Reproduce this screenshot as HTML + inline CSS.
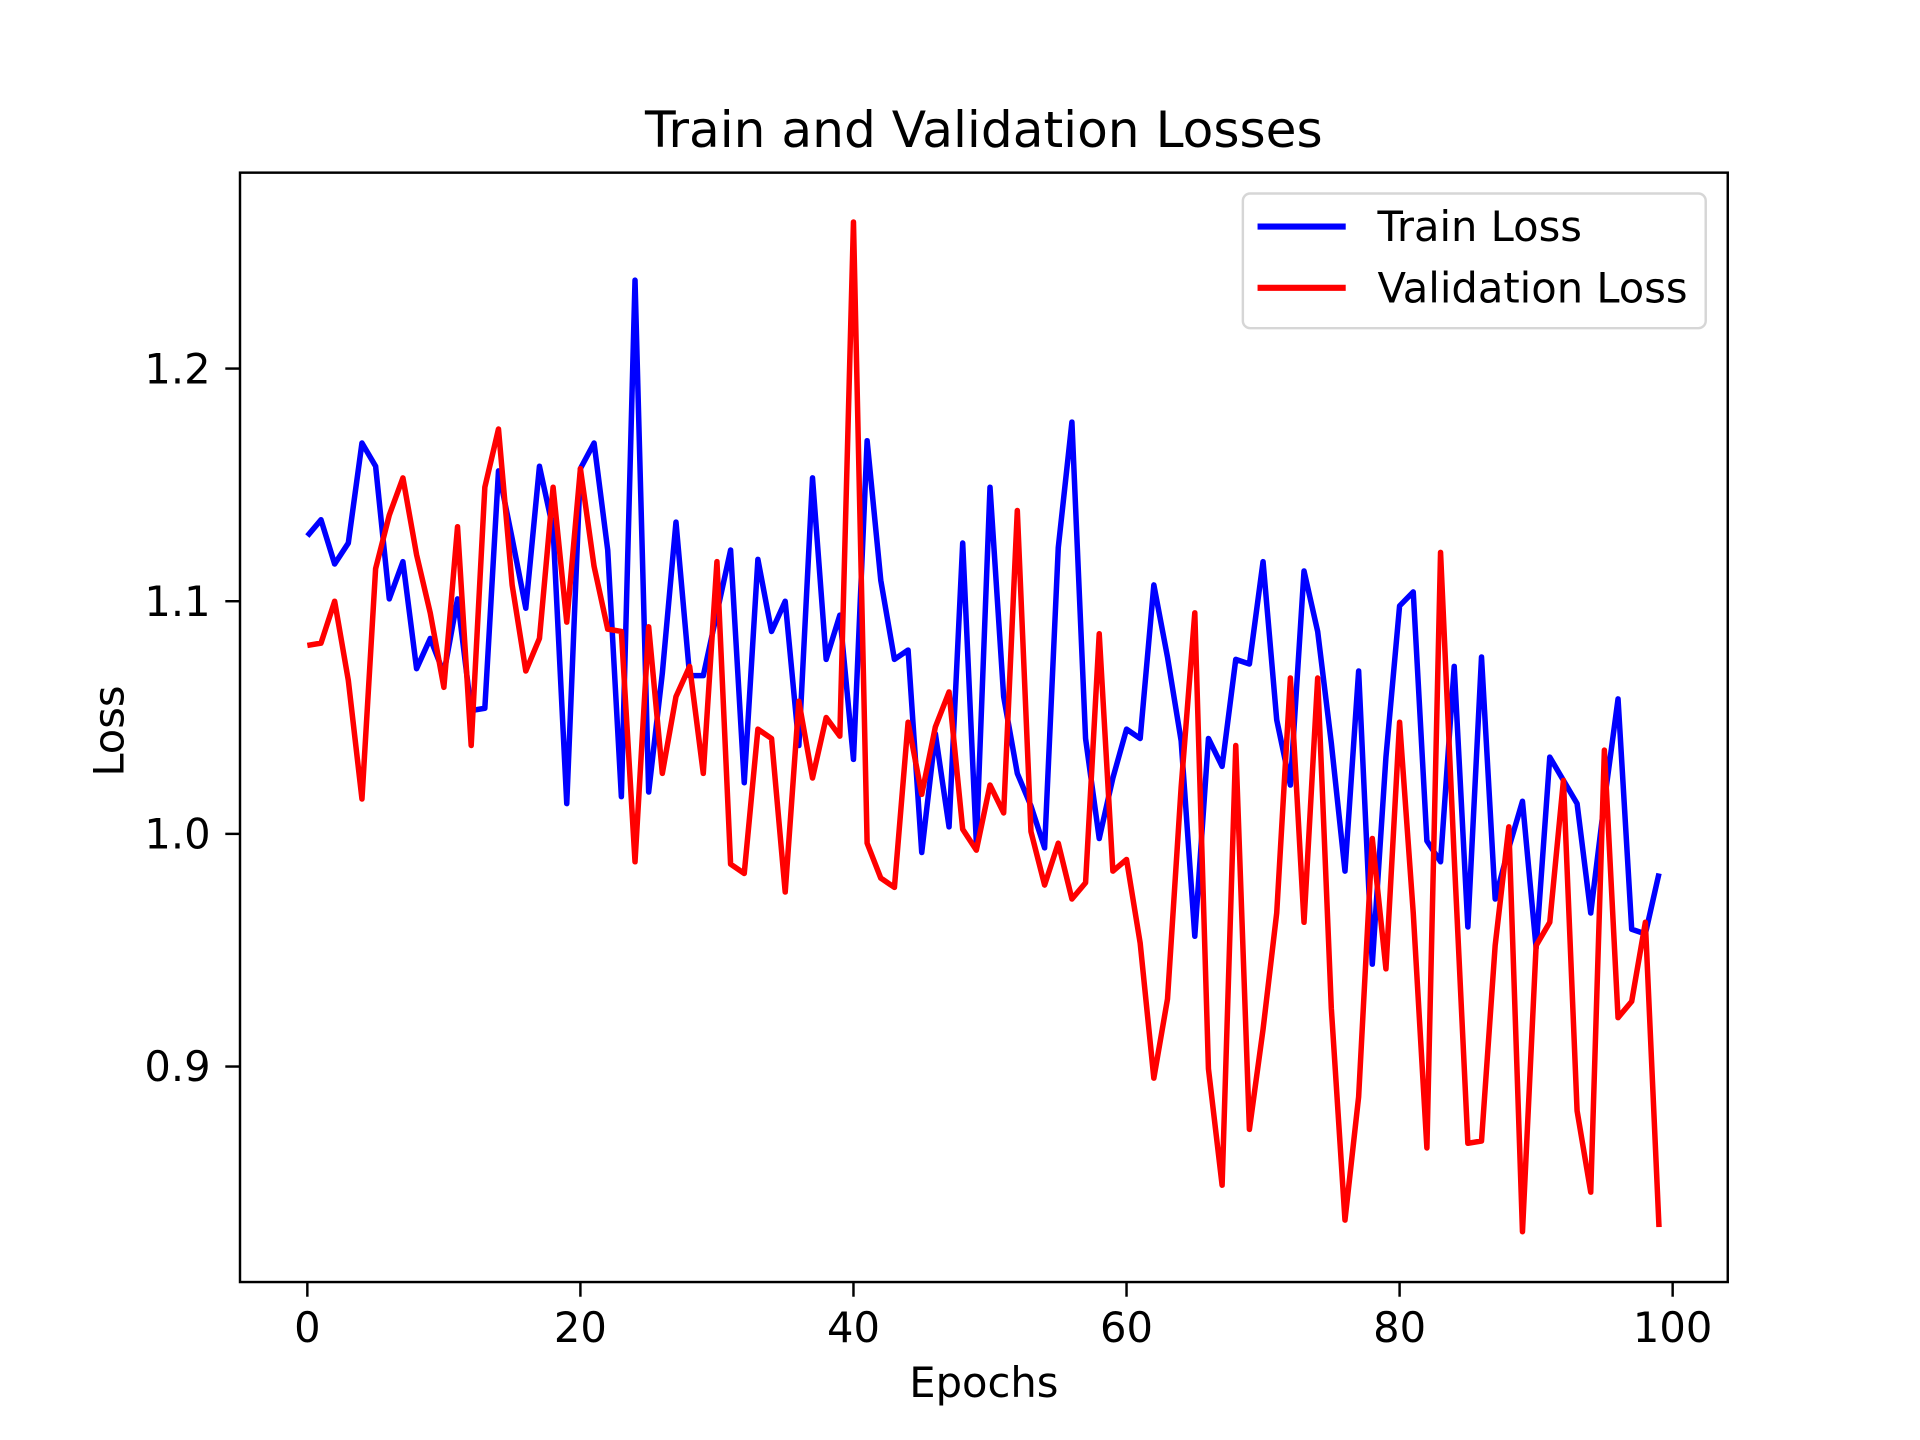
<!DOCTYPE html>
<html><head><meta charset="utf-8"><style>
html,body{margin:0;padding:0;background:#fff;}
svg{display:block;}
text{font-family:"DejaVu Sans","Liberation Sans",sans-serif;fill:#000;}
</style></head><body>
<svg id="chart" width="1920" height="1440" viewBox="0 0 1568 1176" xmlns="http://www.w3.org/2000/svg">
<rect width="1568" height="1176" fill="#fff"/>
<text x="803.5" y="120" font-size="41" text-anchor="middle">Train and Validation Losses</text>
<g id="plot"></g>
<rect x="196" y="141" width="1215" height="906" fill="none" stroke="#000" stroke-width="2"/>
<g id="ticks"></g>
<text x="803.5" y="1141" font-size="34" text-anchor="middle">Epochs</text>
<text x="101" y="597" font-size="34" text-anchor="middle" transform="rotate(-90 101 597)">Loss</text>
<g>
<rect x="1015" y="158" width="378" height="110" rx="6" fill="#fff" fill-opacity="0.8" stroke="#d6d6d6" stroke-width="2"/>
<line x1="1027" y1="185" x2="1099" y2="185" stroke="#0000ff" stroke-width="5"/>
<text x="1125" y="197" font-size="34">Train Loss</text>
<line x1="1027" y1="235" x2="1099" y2="235" stroke="#ff0000" stroke-width="5"/>
<text x="1125" y="247" font-size="34">Validation Loss</text>
</g>
</svg>
<script>
const trainLoss=[1.128,1.135,1.116,1.125,1.168,1.158,1.101,1.117,1.071,1.084,1.069,1.101,1.053,1.054,1.156,1.127,1.097,1.158,1.131,1.013,1.157,1.168,1.122,1.016,1.238,1.018,1.069,1.134,1.068,1.068,1.095,1.122,1.022,1.118,1.087,1.100,1.038,1.153,1.075,1.094,1.032,1.169,1.109,1.075,1.079,0.992,1.043,1.003,1.125,0.996,1.149,1.059,1.026,1.012,0.994,1.123,1.177,1.041,0.998,1.024,1.045,1.041,1.107,1.076,1.040,0.956,1.041,1.029,1.075,1.073,1.117,1.049,1.021,1.113,1.087,1.039,0.984,1.070,0.944,1.033,1.098,1.104,0.997,0.988,1.072,0.960,1.076,0.972,0.994,1.014,0.951,1.033,1.023,1.013,0.966,1.014,1.058,0.959,0.957,0.983];
const valLoss=[1.081,1.082,1.100,1.066,1.015,1.114,1.137,1.153,1.120,1.095,1.063,1.132,1.038,1.149,1.174,1.107,1.070,1.084,1.149,1.091,1.157,1.115,1.088,1.087,0.988,1.089,1.026,1.059,1.072,1.026,1.117,0.987,0.983,1.045,1.041,0.975,1.057,1.024,1.050,1.042,1.263,0.996,0.981,0.977,1.048,1.017,1.046,1.061,1.002,0.993,1.021,1.009,1.139,1.001,0.978,0.996,0.972,0.979,1.086,0.984,0.989,0.953,0.895,0.929,1.020,1.095,0.899,0.849,1.038,0.873,0.916,0.966,1.067,0.962,1.067,0.925,0.834,0.887,0.998,0.942,1.048,0.966,0.865,1.121,0.990,0.867,0.868,0.952,1.003,0.829,0.952,0.962,1.023,0.881,0.846,1.036,0.921,0.928,0.962,0.831];
const xTicks=[0,20,40,60,80,100];
const yTicks=[0.9,1.0,1.1,1.2];
const yTickLabels=["0.9","1.0","1.1","1.2"];

const NS="http://www.w3.org/2000/svg";
function xs(e){return 251+(e/100)*(1366-251);}
function ys(v){return 681-(v-1.0)*1900;}
const plot=document.getElementById('plot');
const ticks=document.getElementById('ticks');
function series(arr,color,name){
  const p=document.createElementNS(NS,'polyline');
  p.setAttribute('points',arr.map((v,i)=>xs(i).toFixed(2)+','+ys(v).toFixed(2)).join(' '));
  p.setAttribute('fill','none');p.setAttribute('stroke',color);
  p.setAttribute('stroke-width','4.5');p.setAttribute('stroke-linejoin','round');
  
  
  plot.appendChild(p);
}
series(trainLoss,'#0000ff','train-loss-line');
series(valLoss,'#ff0000','validation-loss-line');
xTicks.forEach(t=>{
  const x=xs(t);
  const l=document.createElementNS(NS,'line');
  l.setAttribute('x1',x);l.setAttribute('x2',x);l.setAttribute('y1',1047);l.setAttribute('y2',1059);
  l.setAttribute('stroke','#000');l.setAttribute('stroke-width','2');
  
  
  ticks.appendChild(l);
  const tx=document.createElementNS(NS,'text');
  tx.setAttribute('x',x);tx.setAttribute('y',1096);tx.setAttribute('font-size','34');tx.setAttribute('text-anchor','middle');
  tx.textContent=String(t);
  
  
  ticks.appendChild(tx);
});
yTicks.forEach((t,i)=>{
  const y=ys(t);
  const l=document.createElementNS(NS,'line');
  l.setAttribute('x1',184);l.setAttribute('x2',196);l.setAttribute('y1',y);l.setAttribute('y2',y);
  l.setAttribute('stroke','#000');l.setAttribute('stroke-width','2');
  
  
  ticks.appendChild(l);
  const tx=document.createElementNS(NS,'text');
  tx.setAttribute('x',172);tx.setAttribute('y',y+12);tx.setAttribute('font-size','34');tx.setAttribute('text-anchor','end');
  tx.textContent=yTickLabels[i];
  
  
  ticks.appendChild(tx);
});
</script>
</body></html>
